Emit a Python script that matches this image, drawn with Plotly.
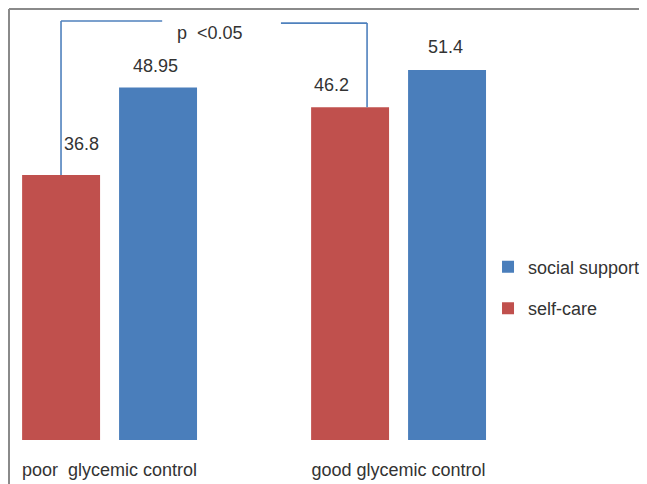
import plotly.graph_objects as go

categories = ["poor\u00a0 glycemic control", "good glycemic control"]
self_care = [36.8, 46.2]
social_support = [48.95, 51.4]
self_care_labels = ["36.8", "46.2"]
social_support_labels = ["48.95", "51.4"]
p_text = "p\u00a0 <0.05"

RED = "#C0504D"
BLUE = "#4A7EBB"
TXT = "#333333"
FONT = "Liberation Sans, Arial, sans-serif"

fig = go.Figure()
fig.add_trace(go.Bar(name="self-care", x=categories, y=self_care,
                     marker=dict(color=RED, line=dict(width=0)),
                     legendgroup="a", legendrank=2, hoverinfo="skip"))
fig.add_trace(go.Bar(name="social support", x=categories, y=social_support,
                     marker=dict(color=BLUE, line=dict(width=0)),
                     legendgroup="b", legendrank=1, hoverinfo="skip"))

half = 0.168  # half the distance between paired bar centers (category units)
label_xshift_red = [20, -18.5]
label_xshift_blue = [-3, -2]
label_yshift_red = [31, 22]
label_yshift_blue = [22, 22.5]
for i in range(len(categories)):
    fig.add_annotation(x=i - half, y=self_care[i], text=self_care_labels[i],
                       showarrow=False, xshift=label_xshift_red[i],
                       yshift=label_yshift_red[i],
                       font=dict(size=18, color=TXT, family=FONT))
    fig.add_annotation(x=i + half, y=social_support[i], text=social_support_labels[i],
                       showarrow=False, xshift=label_xshift_blue[i],
                       yshift=label_yshift_blue[i],
                       font=dict(size=18, color=TXT, family=FONT))

# significance bracket
line_style = dict(color="#4F81BD", width=1.6)
fig.add_shape(type="line", x0=-0.168, x1=-0.168, y0=self_care[0], y1=58.2,
              line=line_style)
fig.add_shape(type="line", x0=-0.168, x1=0.182, y0=58.2, y1=58.2, line=line_style)
fig.add_shape(type="line", x0=0.593, x1=0.891, y0=57.9, y1=57.9, line=line_style)
fig.add_shape(type="line", x0=0.891, x1=0.891, y0=57.9, y1=self_care[1],
              line=line_style)
fig.add_annotation(x=0.346, y=56.5, text=p_text, showarrow=False,
                   font=dict(size=18, color=TXT, family=FONT))

# frame (top and left edges)
frame = dict(color="#8a8a8a", width=2)
fig.add_shape(type="line", xref="paper", yref="paper", x0=0, x1=1.4, y0=1, y1=1,
              line=frame)
fig.add_shape(type="line", xref="paper", yref="paper", x0=0, x1=0, y0=1, y1=-0.2,
              line=frame)

fig.update_layout(
    width=639, height=476,
    margin=dict(l=1, r=147, t=1, b=44, autoexpand=False),
    paper_bgcolor="white", plot_bgcolor="white",
    barmode="group", bargap=0.329, bargroupgap=0.196,
    font=dict(family=FONT, size=18, color=TXT),
    showlegend=True,
    legend=dict(traceorder="grouped", tracegroupgap=15,
                xref="container", yref="container",
                x=0.7512, xanchor="left", y=0.4127, yanchor="middle",
                font=dict(size=18, color=TXT, family=FONT),
                bgcolor="rgba(0,0,0,0)"),
    xaxis=dict(range=[-0.348, 1.351], showgrid=False, zeroline=False,
               showline=False, ticks="", ticklabelstandoff=17, automargin=False,
               tickfont=dict(size=18, color=TXT, family=FONT), fixedrange=True),
    yaxis=dict(range=[0, 59.86], visible=False, showgrid=False, zeroline=False,
               automargin=False, fixedrange=True),
)

fig.write_html("out.html")
